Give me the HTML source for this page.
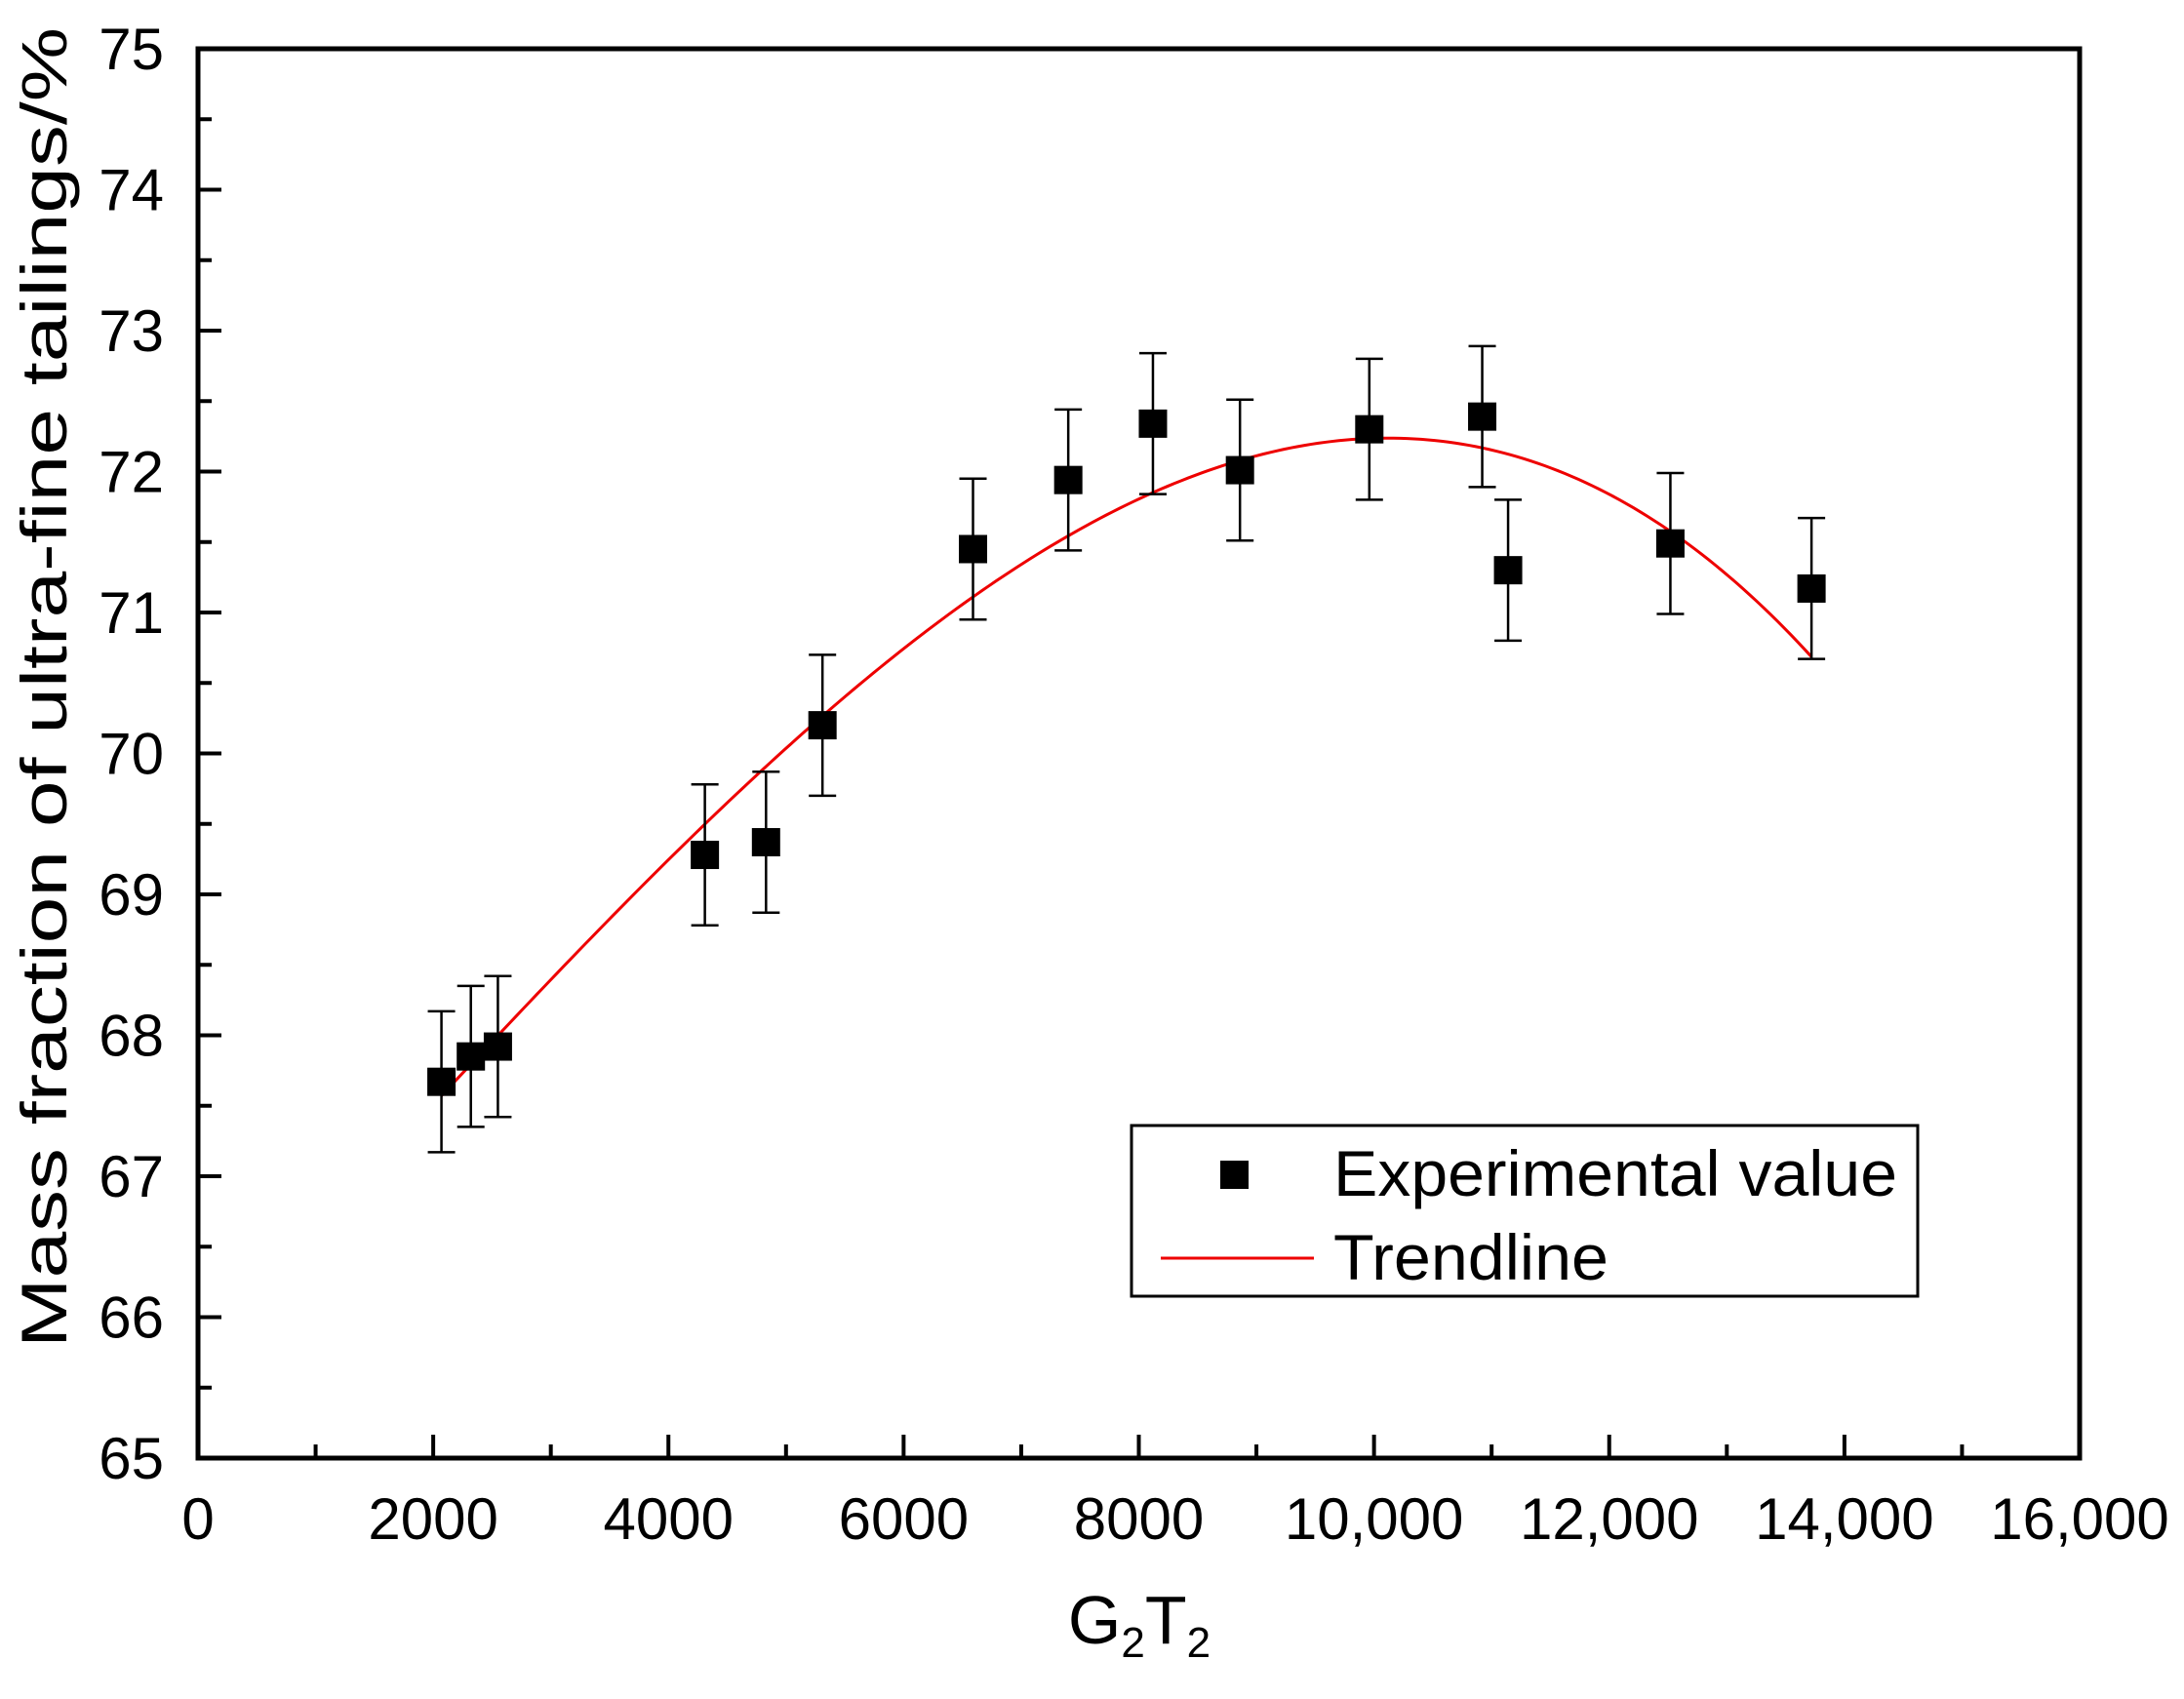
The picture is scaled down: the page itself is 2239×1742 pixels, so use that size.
<!DOCTYPE html>
<html><head><meta charset="utf-8">
<style>
html,body{margin:0;padding:0;background:#fff;}
svg{display:block;font-family:"Liberation Sans",Arial,sans-serif;}
</style></head>
<body>
<svg id="chart" width="2239" height="1742" viewBox="0 0 2239 1742" xmlns="http://www.w3.org/2000/svg">
<rect width="2239" height="1742" fill="#fff"/>
<g id="grid"></g>
<g id="marks"></g>
<rect x="203" y="50" width="1929" height="1445" fill="none" stroke="#000" stroke-width="5"/>
<text transform="translate(68,705) rotate(-90)" text-anchor="middle" font-size="66" textLength="1354" lengthAdjust="spacingAndGlyphs">Mass fraction of ultra-fine tailings/%</text>
<text x="1168" y="1685" text-anchor="middle" font-size="70">G<tspan font-size="44" dy="14">2</tspan><tspan dy="-14">T</tspan><tspan font-size="44" dy="14">2</tspan></text>
<g>
<rect x="1160" y="1154" width="806" height="175" fill="#fff" stroke="#000" stroke-width="3"/>
<rect x="1251" y="1190" width="29" height="29" fill="#000"/>
<text x="1367" y="1226" font-size="66" textLength="578" lengthAdjust="spacingAndGlyphs">Experimental value</text>
<line x1="1190" y1="1290" x2="1347" y2="1290" stroke="#e00" stroke-width="3"/>
<text x="1367" y="1312" font-size="66" textLength="282" lengthAdjust="spacingAndGlyphs">Trendline</text>
</g>
</svg>
<script>
const xTicks = [0,2000,4000,6000,8000,10000,12000,14000,16000];
const xTickLabels = ["0","2000","4000","6000","8000","10,000","12,000","14,000","16,000"];
const yTicks = [65,66,67,68,69,70,71,72,73,74,75];
const expX = [2070,2320,2550,4310,4830,5310,6590,7400,8120,8860,9960,10920,11140,12520,13720];
const expY = [67.67,67.85,67.92,69.28,69.37,70.2,71.45,71.94,72.34,72.01,72.3,72.39,71.3,71.49,71.17];
const expErr = [0.5,0.5,0.5,0.5,0.5,0.5,0.5,0.5,0.5,0.5,0.5,0.5,0.5,0.5,0.5];
const trendX = [2070,3000,4000,5000,6000,7000,8000,9000,10000,11000,12000,13000,13720];
const trendY = [67.6,68.38,69.25,70.0,70.7,71.3,71.87,72.2,72.3,72.15,71.68,71.2,70.8];

const L=203,R=2132,T=50,B=1495;
const X=v=>L+(v-0)/16000*(R-L);
const Y=v=>B-(v-65)/10*(B-T);
const NS="http://www.w3.org/2000/svg";
const g=document.getElementById('grid'), m=document.getElementById('marks');
function mk(tag,attrs,parent){const e=document.createElementNS(NS,tag);for(const k in attrs)e.setAttribute(k,attrs[k]);parent.appendChild(e);return e;}

xTicks.forEach((v,i)=>{
  const t=mk('line',{x1:X(v),x2:X(v),y1:B,y2:B-24,stroke:'#000','stroke-width':4},g);
  
  
  if(i<xTicks.length-1){
    const mn=mk('line',{x1:X(v+1000),x2:X(v+1000),y1:B,y2:B-14,stroke:'#000','stroke-width':4},g);
    
    
  }
  const lb=mk('text',{x:X(v),y:1578,'text-anchor':'middle','font-size':60},g);
  lb.textContent=xTickLabels[i];
  
  
});
yTicks.forEach((v,i)=>{
  const t=mk('line',{x1:L,x2:L+24,y1:Y(v),y2:Y(v),stroke:'#000','stroke-width':4},g);
  
  
  if(i<yTicks.length-1){
    const mn=mk('line',{x1:L,x2:L+14,y1:Y(v+0.5),y2:Y(v+0.5),stroke:'#000','stroke-width':4},g);
    
    
  }
  const lb=mk('text',{x:168,y:Y(v)+21,'text-anchor':'end','font-size':60},g);
  lb.textContent=String(v);
  
  
});

// least-squares cubic fit of trend points
function fitPoly(xs,ys,deg){
  const n=deg+1, s=10000;
  const A=Array.from({length:n},()=>new Array(n+1).fill(0));
  xs.forEach((x0,k)=>{const x=x0/s;for(let i=0;i<n;i++){for(let j=0;j<n;j++)A[i][j]+=Math.pow(x,i+j);A[i][n]+=ys[k]*Math.pow(x,i);}});
  for(let i=0;i<n;i++){let p=i;for(let r=i+1;r<n;r++)if(Math.abs(A[r][i])>Math.abs(A[p][i]))p=r;[A[i],A[p]]=[A[p],A[i]];
    for(let r=0;r<n;r++){if(r===i)continue;const f=A[r][i]/A[i][i];for(let c=i;c<=n;c++)A[r][c]-=f*A[i][c];}}
  const c=A.map((row,i)=>row[n]/row[i]);
  return x=>c.reduce((a,ci,i)=>a+ci*Math.pow(x/s,i),0);
}
const f=fitPoly(trendX,trendY,3);
const x0=trendX[0], x1=trendX[trendX.length-1];
let d='';
for(let k=0;k<=200;k++){const xv=x0+(x1-x0)*k/200;d+=(k?'L':'M')+X(xv).toFixed(2)+','+Y(f(xv)).toFixed(2);}
const tl=mk('path',{d:d,fill:'none',stroke:'#e00','stroke-width':3},m);



expX.forEach((x,i)=>{
  const cx=X(x),cy=Y(expY[i]),yt=Y(expY[i]+expErr[i]),yb=Y(expY[i]-expErr[i]);
  const eb=mk('path',{d:`M${cx},${yt}V${yb}M${cx-14},${yt}H${cx+14}M${cx-14},${yb}H${cx+14}`,stroke:'#000','stroke-width':2.5,fill:'none'},m);
  
  
  const pt=mk('rect',{x:cx-14.5,y:cy-14.5,width:29,height:29,fill:'#000'},m);
  
  
});
</script>
</body></html>
